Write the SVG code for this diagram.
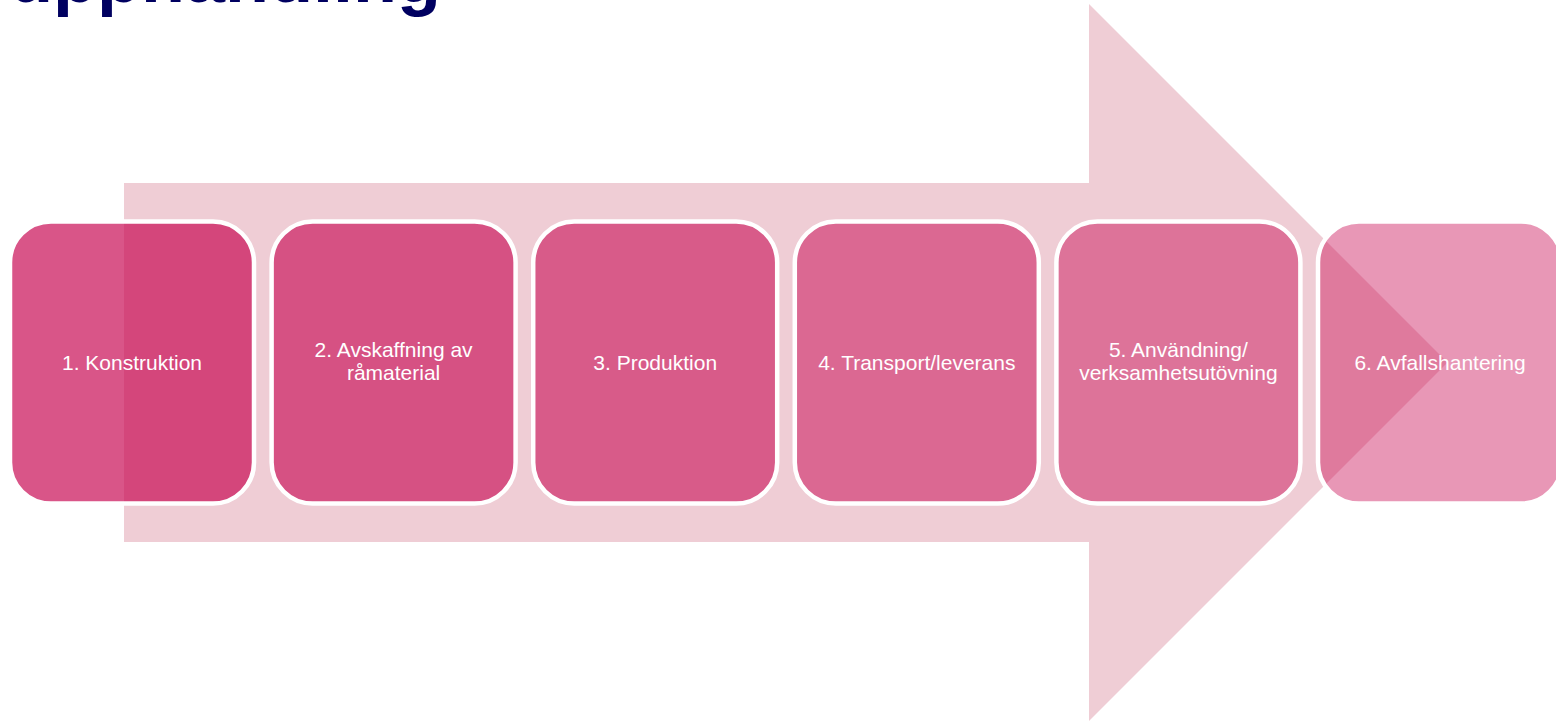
<svg xmlns="http://www.w3.org/2000/svg" width="1556" height="722" viewBox="0 0 1556 722">
<style>
.node rect{stroke:#FFFFFF;stroke-width:4.5}
.lbl{font-family:"Liberation Sans",Arial,sans-serif;font-size:21px;fill:#FFFFFF;text-anchor:middle}
.title{font-family:"Liberation Sans",Arial,sans-serif;font-size:72px;font-weight:bold;fill:#000060}
</style>
<rect x="0" y="0" width="1556" height="722" fill="#FFFFFF"/>
<text class="title" x="9" y="2">upphandling</text>
<g id="arrow">
<polygon points="124,183 1089,183 1089,4 1447.5,362.5 1089,721 1089,542 124,542" fill="#EFCDD5"/>
</g>
<g id="connectors"></g>
<g id="node1" class="node">
<rect x="10" y="221.5" width="244" height="282" rx="41" fill="#C80852" fill-opacity="0.69"/>
<text class="lbl" x="132" y="370">1. Konstruktion</text>
</g>
<g id="node2" class="node">
<rect x="271.6" y="221.5" width="244" height="282" rx="41" fill="#C80852" fill-opacity="0.63"/>
<text class="lbl" x="393.6" y="357">2. Avskaffning av</text>
<text class="lbl" x="393.6" y="380">råmaterial</text>
</g>
<g id="node3" class="node">
<rect x="533.2" y="221.5" width="244" height="282" rx="41" fill="#C80852" fill-opacity="0.58"/>
<text class="lbl" x="655.2" y="370">3. Produktion</text>
</g>
<g id="node4" class="node">
<rect x="794.8" y="221.5" width="244" height="282" rx="41" fill="#C80852" fill-opacity="0.51"/>
<text class="lbl" x="916.8" y="370">4. Transport/leverans</text>
</g>
<g id="node5" class="node">
<rect x="1056.4" y="221.5" width="244" height="282" rx="41" fill="#C80852" fill-opacity="0.46"/>
<text class="lbl" x="1178.4" y="357">5. Användning/</text>
<text class="lbl" x="1178.4" y="380">verksamhetsutövning</text>
</g>
<g id="node6" class="node">
<rect x="1318" y="221.5" width="244" height="282" rx="41" fill="#C80852" fill-opacity="0.42"/>
<text class="lbl" x="1440" y="370">6. Avfallshantering</text>
</g>
</svg>
